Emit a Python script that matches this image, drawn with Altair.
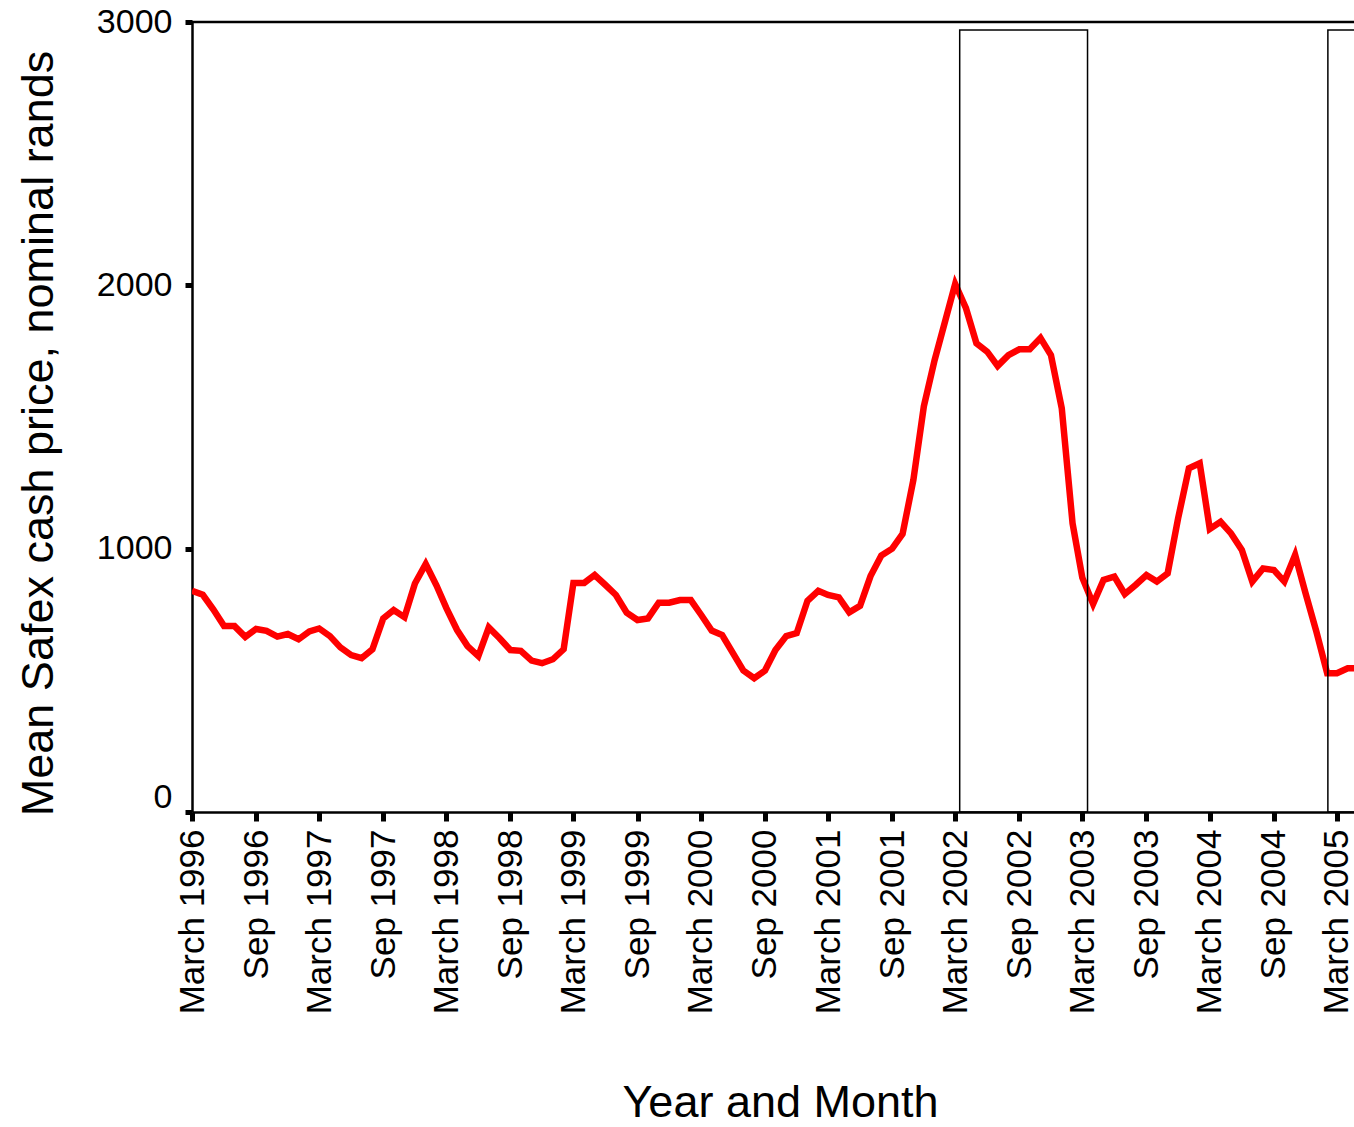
import altair as alt
import pandas as pd

# Monthly mean Safex cash price (nominal rands), March 1996 onwards
START_MONTH = "1996-03-01"
prices = [
    # 1996 (Mar-Dec)
    840, 825, 770, 706, 706, 665, 695, 688, 666, 676,
    # 1997
    656, 686, 697, 668, 625, 596, 584, 618, 735, 767, 740, 868,
    # 1998
    942, 860, 775, 691, 630, 592, 701, 660, 615, 612, 575, 565,
    # 1999
    580, 618, 870, 870, 900, 862, 824, 757, 729, 735, 795, 795,
    # 2000
    805, 805, 750, 689, 672, 603, 537, 508, 537, 615, 668, 679,
    # 2001
    802, 840, 824, 815, 758, 783, 896, 974, 1000, 1056, 1261, 1540,
    # 2002
    1716, 1868, 2005, 1913, 1780, 1748, 1694, 1735, 1757, 1757, 1800, 1735,
    # 2003
    1533, 1096, 890, 790, 881, 894, 828, 862, 900, 875, 906, 1115,
    # 2004
    1305, 1324, 1075, 1102, 1058, 995, 875, 925, 919, 875, 976, 830,
    # 2005 (Jan-May)
    685, 527, 527, 546, 546,
]

# Marked periods drawn as outlined boxes
period_start = ["2002-03-14", "2005-02-03"]
period_end = ["2003-03-16", "2005-12-01"]
period_top = [2970, 2970]

y_ticks = [0, 1000, 2000, 3000]
tick_years = list(range(1996, 2006))

months = pd.date_range(START_MONTH, periods=len(prices), freq="MS").strftime("%Y-%m-%d")
series = pd.DataFrame({"month": months, "price": prices})
periods = pd.DataFrame({"start": period_start, "end": period_end, "top": period_top})
frame = pd.DataFrame({"y": [3000]})

x_values = [
    alt.DateTime(year=yr, month=m, date=1, utc=True)
    for yr in tick_years
    for m in (3, 9)
    if not (yr == 2005 and m == 9)
]

x_scale = alt.Scale(
    type="utc",
    domain=[
        alt.DateTime(year=1996, month=3, date=1, utc=True),
        alt.DateTime(year=2005, month=4, date=19, utc=True),
    ],
)
y_scale = alt.Scale(domain=[0, 3000], nice=False, zero=True)

FONT = "Liberation Sans"

x_axis = alt.Axis(
    title="Year and Month",
    values=x_values,
    labelExpr="(utcFormat(datum.value, '%m') == '03' ? 'March ' : 'Sep ') + utcFormat(datum.value, '%Y')",
    labelAngle=270,
    labelAlign="right",
    labelBaseline="middle",
    labelFont=FONT,
    labelFontSize=35,
    labelColor="black",
    labelPadding=8,
    labelLimit=0,
    labelOverlap=False,
    labelFlush=False,
    tickSize=9,
    tickWidth=5,
    tickColor="black",
    domainColor="black",
    domainWidth=2.5,
    grid=False,
    titleFont=FONT,
    titleFontSize=45,
    titleFontWeight="normal",
    titleColor="black",
    titleAlign="center",
    titleBaseline="alphabetic",
    titleX=588,
    titleY=304,
)

y_axis = alt.Axis(
    title="Mean Safex cash price, nominal rands",
    values=y_ticks,
    format="d",
    labelFont=FONT,
    labelFontSize=34,
    labelColor="black",
    labelPadding=13,
    labelBaseline={"condition": {"test": "datum.value === 0", "value": "alphabetic"}, "value": "middle"},
    labelOffset={"condition": {"test": "datum.value === 0", "value": -5}, "value": 0},
    labelFlush=False,
    labelOverlap=False,
    tickSize=7,
    tickWidth=5,
    tickColor="black",
    domainColor="black",
    domainWidth=2.5,
    grid=False,
    titleFont=FONT,
    titleFontSize=45,
    titleFontWeight="normal",
    titleColor="black",
    titleAngle=270,
    titleAlign="center",
    titleBaseline="alphabetic",
    titleX=-140,
    titleY=411,
)

line = alt.Chart(series).mark_line(
    color="#ff0000", strokeWidth=6.5, strokeJoin="miter", strokeCap="butt", clip=True
).encode(
    x=alt.X("month:T", scale=x_scale, axis=x_axis),
    y=alt.Y("price:Q", scale=y_scale, axis=y_axis),
)

boxes = alt.Chart(periods).mark_rect(
    fillOpacity=0, stroke="black", strokeWidth=1.5, clip=True
).encode(
    x=alt.X("start:T", scale=x_scale),
    x2="end:T",
    y=alt.Y("top:Q", scale=y_scale),
    y2=alt.datum(0),
)

top_rule = alt.Chart(frame).mark_rule(color="black", strokeWidth=2.5).encode(
    y=alt.Y("y:Q", scale=y_scale)
)

chart = (
    alt.layer(line, boxes, top_rule)
    .properties(
        width=1162,
        height=790,
        autosize=alt.AutoSizeParams(type="none"),
        padding={"left": 192, "top": 22, "right": 0, "bottom": 315},
        background="white",
    )
    .configure_view(stroke=None)
)

chart.save("out.html", embed_options={"renderer": "svg", "actions": False})
